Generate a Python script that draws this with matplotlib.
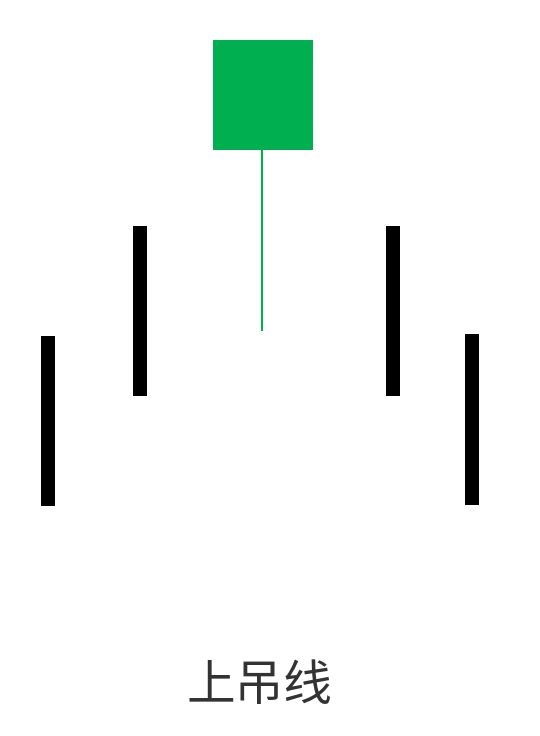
import matplotlib
matplotlib.use("Agg")
import matplotlib.pyplot as plt

plt.rcParams['font.family'] = ['Noto Sans CJK SC', 'DejaVu Sans']

# ---- data (price axis, larger = higher) ----
# black bars: day index and range
bar_x    = [1, 2, 4, 5]
bar_high = [40.0, 51.0, 51.0, 40.2]
bar_low  = [23.0, 34.0, 34.0, 23.1]

# hanging man candle (day 3)
hm_x     = 3
hm_top   = 69.6   # body top
hm_bot   = 58.6   # body bottom
hm_low   = 40.5   # lower shadow end

title    = "上吊线"

# ---- figure ----
W, H, dpi = 540, 736, 100
fig = plt.figure(figsize=(W/dpi, H/dpi), dpi=dpi)
ax = fig.add_axes([0, 0, 1, 1])
ax.set_xlim(0.48, 6.03)
ax.set_ylim(0, 73.6)
ax.axis('off')

# scale: 1 x-unit ~ 97 px, 1 y-unit = 10 px
px_x = W / (6.03 - 0.48)
bx = [48, 140, 392.5, 472.5]
xpos = [0.48 + p / px_x for p in bx]

for x, hi, lo in zip(xpos, bar_high, bar_low):
    ax.bar(x, hi - lo, bottom=lo, width=14 / px_x, color='black', linewidth=0)

cx = 0.48 + 263 / px_x
ax.bar(cx, hm_top - hm_bot, bottom=hm_bot, width=100 / px_x,
       color='#00B050', linewidth=0)
ax.plot([cx - 0.5 / px_x] * 2, [hm_bot, hm_low], color='#00B050', lw=1.5,
        solid_capstyle='butt')

fig.text(259 / W, 1 - 686 / H, title, ha='center', va='center',
         fontsize=35, color='#333333')

fig.savefig('out.png', dpi=dpi, facecolor='white')
